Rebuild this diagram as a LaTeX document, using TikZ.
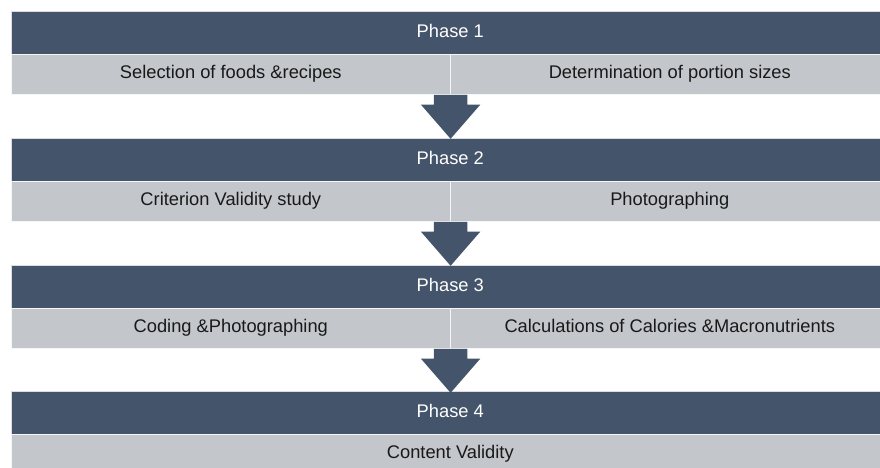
\documentclass[tikz,border=0pt]{standalone}
\usepackage{fontspec}
\setmainfont{Liberation Sans}
\usetikzlibrary{shapes.arrows}
\usetikzlibrary{positioning}
\definecolor{slate}{HTML}{44546A}
\definecolor{mist}{HTML}{C3C6CA}

\begin{document}
\begin{tikzpicture}[x=1pt, y=-1pt, font=\fontsize{18.3}{20}\selectfont,
	phase/.style={anchor=north west, fill=slate, draw=white!80!slate, line width=0.6pt,
		minimum width=878pt, minimum height=43pt, inner sep=0pt, text=white,
		text height=13pt, text depth=4pt},
	half/.style={anchor=north west, fill=mist, draw=white!85!mist, line width=0.6pt,
		minimum width=439pt, minimum height=40pt, inner sep=0pt, text=black!90,
		text height=13pt, text depth=4pt},
	full/.style={half, minimum width=878pt},
	blockarr/.style={single arrow, fill=slate, draw=none, rotate=-90, anchor=tail,
		minimum height=44pt, inner xsep=0pt, inner ysep=16.5pt,
		single arrow head extend=13pt, single arrow tip angle=82}]
	\useasboundingbox (0,0) rectangle (880,468);
	\clip (0,0) rectangle (880,468);
	% phase 1
	\node[phase] (p1) at (11,11) {Phase 1};
	\node[half] (c1a) at (11,54) {Selection of foods \&recipes};
	\node[half] (c1b) at (450,54) {Determination of portion sizes};
	% phase 2
	\node[phase] (p2) at (11,138) {Phase 2};
	\node[half] (c2a) at (11,181) {Criterion Validity study};
	\node[half] (c2b) at (450,181) {Photographing};
	% phase 3
	\node[phase] (p3) at (11,265) {Phase 3};
	\node[half] (c3a) at (11,308) {Coding \&Photographing};
	\node[half] (c3b) at (450,308) {Calculations of Calories \&Macronutrients};
	% phase 4
	\node[phase] (p4) at (11,391) {Phase 4};
	\node[full] (c4) at (11,434) {Content Validity};
	% arrows
	\node[blockarr] (a1) at (c1a.south east) {};
	\node[blockarr] (a2) at (c2a.south east) {};
	\node[blockarr] (a3) at (c3a.south east) {};
\end{tikzpicture}
\end{document}
